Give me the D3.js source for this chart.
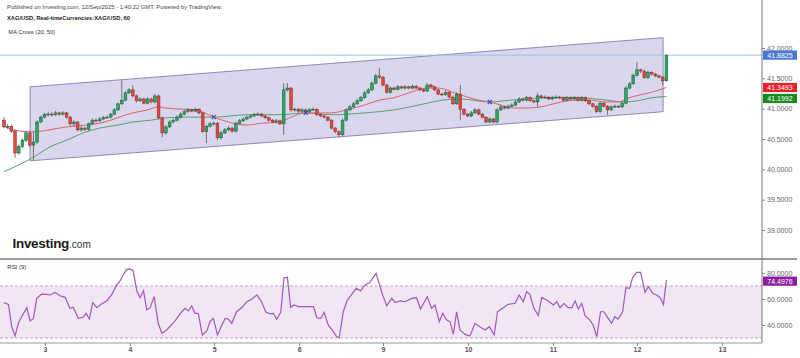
<!DOCTYPE html>
<html><head><meta charset="utf-8">
<script src="https://cdn.jsdelivr.net/npm/d3@7"></script>
<style>body{margin:0;background:#fff;}svg{display:block;font-family:"Liberation Sans",Arial,sans-serif;}</style>
</head><body><svg id="c" width="800" height="358"></svg>
<script>
// ---------- DATA ----------
const firstOpen = 40.81;
const closes = [40.70,40.71,40.63,40.27,40.38,40.48,40.60,40.40,40.45,40.78,
 40.86,40.90,40.91,40.90,40.93,40.91,40.93,40.86,40.75,40.78,
 40.65,40.68,40.66,40.75,40.81,40.80,40.83,40.85,40.86,40.91,
 40.98,41.08,41.14,41.26,41.31,41.21,41.13,41.16,41.09,41.16,
 41.11,41.21,40.85,40.60,40.70,40.78,40.81,40.86,40.91,40.95,
 40.98,40.96,40.99,40.93,40.62,40.71,40.75,40.76,40.52,40.60,
 40.65,40.68,40.63,40.76,40.80,40.83,40.86,40.88,40.90,40.91,
 40.88,40.85,40.81,40.78,40.80,40.75,41.31,41.34,40.98,40.99,
 40.96,40.98,40.95,40.98,40.99,40.90,40.88,40.86,40.81,40.68,
 40.62,40.57,40.81,40.98,41.03,41.08,41.13,41.18,41.26,41.31,
 41.42,41.54,41.52,41.39,41.27,41.34,41.32,41.36,41.34,41.36,
 41.34,41.37,41.34,41.31,41.29,41.39,41.36,41.31,41.24,41.23,
 41.27,41.19,41.08,41.24,40.99,40.91,40.88,40.93,40.98,40.91,
 40.86,40.78,40.83,40.78,40.98,41.03,41.01,41.04,41.06,41.11,
 41.16,41.14,41.18,41.13,41.11,41.21,41.18,41.19,41.16,41.18,
 41.19,41.18,41.14,41.18,41.16,41.18,41.14,41.18,41.13,41.08,
 41.04,40.95,41.09,41.04,40.98,41.03,41.04,41.03,41.09,41.34,
 41.41,41.55,41.64,41.62,41.51,41.60,41.57,41.54,41.52,41.46,
 41.8825];
const highs = [40.86,40.75,40.74,40.66,40.41,40.51,40.63,40.62,40.62,40.81,
 40.89,40.93,40.95,40.94,40.96,40.95,40.96,40.95,40.88,40.81,
 40.80,40.71,40.70,40.77,40.84,40.84,40.86,40.88,40.89,40.93,
 41.01,41.10,41.47,41.29,41.34,41.39,41.23,41.19,41.18,41.19,
 41.18,41.24,41.23,40.87,40.73,40.81,40.84,40.89,40.94,40.98,
 41.01,41.00,41.02,41.01,40.95,40.74,40.78,40.79,40.78,40.63,
 40.68,40.71,40.70,40.79,40.83,40.86,40.89,40.91,40.93,40.94,
 40.93,40.90,40.87,40.83,40.83,40.82,41.42,41.42,41.36,41.02,
 41.01,41.01,41.00,41.01,41.02,41.01,40.92,40.90,40.88,40.83,
 40.70,40.64,40.84,41.01,41.06,41.11,41.16,41.21,41.29,41.34,
 41.45,41.57,41.67,41.54,41.41,41.37,41.36,41.39,41.38,41.39,
 41.38,41.40,41.39,41.36,41.33,41.42,41.41,41.38,41.33,41.26,
 41.30,41.29,41.21,41.27,41.39,41.01,40.93,40.96,41.01,41.00,
 40.93,40.88,40.86,40.85,41.01,41.06,41.05,41.07,41.09,41.14,
 41.19,41.18,41.21,41.20,41.15,41.26,41.23,41.22,41.21,41.21,
 41.22,41.21,41.20,41.21,41.20,41.21,41.20,41.21,41.20,41.15,
 41.10,41.06,41.12,41.11,41.06,41.06,41.07,41.06,41.12,41.37,
 41.44,41.58,41.77,41.66,41.64,41.63,41.62,41.59,41.56,41.54,
 41.89];
const lows = [40.68,40.66,40.60,40.19,40.24,40.35,40.45,40.37,40.15,40.42,
 40.76,40.84,40.87,40.87,40.88,40.88,40.89,40.84,40.72,40.70,
 40.63,40.62,40.63,40.64,40.73,40.77,40.78,40.81,40.83,40.84,
 40.89,40.96,41.06,41.12,41.24,41.19,41.10,41.11,41.07,41.07,
 41.09,41.09,40.82,40.53,40.57,40.68,40.76,40.79,40.84,40.89,
 40.93,40.94,40.94,40.91,40.60,40.43,40.69,40.72,40.48,40.49,
 40.58,40.63,40.60,40.61,40.74,40.78,40.81,40.84,40.86,40.88,
 40.86,40.83,40.79,40.76,40.76,40.73,40.57,41.28,40.95,40.95,
 40.93,40.93,40.92,40.92,40.96,40.88,40.86,40.84,40.79,40.66,
 40.59,40.53,40.55,40.79,40.96,41.01,41.06,41.11,41.16,41.24,
 41.29,41.40,41.49,41.37,41.25,41.25,41.30,41.30,41.32,41.32,
 41.32,41.32,41.32,41.29,41.27,41.27,41.34,41.29,41.22,41.21,
 41.21,41.17,41.06,41.06,40.81,40.89,40.86,40.86,40.91,40.89,
 40.84,40.76,40.76,40.76,40.76,40.96,40.99,40.99,41.02,41.04,
 41.09,41.12,41.12,41.11,41.09,41.03,41.16,41.16,41.14,41.14,
 41.16,41.16,41.12,41.12,41.14,41.14,41.12,41.12,41.11,41.06,
 41.02,40.93,40.93,41.02,40.90,40.96,41.01,41.01,41.01,41.07,
 41.32,41.39,41.53,41.59,41.49,41.49,41.55,41.52,41.50,41.39,
 41.44];

const ma20Idx = [0,4.3,8,17,26,35,39,42,44,49,52,57,61,66,70,75,78,82,89,93,98,102,106,110,115,118,122,126,129,132,135,138,142,146,150,155,159,164,167,170,173,176,180];
const ma20Val = [40.71,40.63,40.62,40.70,40.76,40.93,40.98,41.03,41.01,40.99,40.98,40.86,40.78,40.73,40.76,40.78,40.86,40.93,40.93,40.98,41.06,41.14,41.18,41.26,41.34,41.34,41.27,41.19,41.14,41.11,41.06,41.01,41.01,41.03,41.09,41.14,41.14,41.11,41.11,41.18,41.23,41.27,41.3493];
const ma50Idx = [0,8,12.5,17,21.5,26,31,35,40,44,49,57,66,75,82,89,98,106,115,119,124,132,137.5,142,146.5,155,164,168,173,176,180];
const ma50Val = [39.96,40.20,40.37,40.48,40.60,40.68,40.73,40.78,40.81,40.85,40.86,40.86,40.90,40.90,40.93,40.90,40.93,40.98,41.09,41.14,41.16,41.11,41.14,41.16,41.18,41.18,41.14,41.11,41.14,41.18,41.1992];
const crossIdx = [57,82,132];
const crossVal = [40.86,40.93,41.11];

const rsiIdx = [0,1.2,2.1,3.0,3.9,4.8,6.2,7.1,8.0,8.9,10.2,11.6,12.5,13.9,15.2,16.6,17.9,18.8,20.2,21.5,
 22.3,23.2,24.1,25.2,26.5,27.9,29.3,30.6,31.5,32.4,33.3,34.2,35.1,36.1,37.0,37.9,38.8,39.7,40.8,41.9,
 42.9,44.2,46.5,48.3,49.2,50.1,51.0,51.9,52.8,53.9,55.1,56.0,56.9,58.0,59.2,60.1,61.0,61.9,63.2,64.6,
 66.0,67.3,68.7,70.0,71.1,72.3,73.2,74.1,75.2,76.1,77.0,77.9,78.8,80.0,82.3,84.1,85.0,86.1,87.0,88.1,
 89.0,90.4,91.1,92.2,93.3,94.5,95.7,96.9,98.1,99.3,101.1,102.2,102.9,104.0,105.4,106.3,107.6,109.0,110.8,112.1,
 113.2,115.0,116.2,117.1,118.3,119.2,120.3,121.2,122.1,123.0,123.9,125.3,126.6,128.0,129.3,130.7,131.9,133.2,134.1,135.7,
 137.0,138.9,140.0,141.1,142.0,142.9,144.0,145.2,146.1,147.5,149.3,150.2,151.1,152.2,153.3,154.3,155.2,156.1,157.0,157.9,
 159.2,160.1,161.1,162.1,163.0,164.2,165.1,166.0,166.9,168.1,169.0,170.0,170.8,171.9,173.0,174.2,175.1,176.3,177.4,178.3,
 179.2,180];
const rsiVal = [57.2,55.9,38.7,31.5,41.3,46.4,53.3,43.1,45.1,60.5,63.8,63.6,63.1,65.1,62.5,61.3,52.8,53.6,45.1,45.9,
 49,44.6,57.2,53.3,56.2,58.5,63.6,70.8,73.8,78.5,82.8,83.1,81.8,66.2,61.0,66.4,51.5,53.3,61.8,41.3,
 33.6,36.2,43.1,50.2,52.8,50.8,54.6,49,49,32.3,35.4,42.6,45.1,32.3,40,45.1,44.4,41.3,50.2,53.3,
 57.9,59.8,63.1,57.9,50.2,48.5,49,44.4,49.8,76.4,76.7,53.6,55.4,54.1,54.1,54.1,45.6,45.1,49.8,40,
 36.9,31,30.2,50.2,59.2,63.6,68.2,66.2,70.8,72.5,79.7,69.5,63.1,54.9,60.5,57.2,58.5,57.9,60.5,61.0,
 52.3,61.8,52.8,55.4,42.6,49,43.8,42.6,32.8,50.2,36.2,32.8,31.5,41.3,38.7,36.2,38.7,32.3,50.2,53.3,
 55.9,56.7,63.1,57.9,65.6,63.6,52.8,47.2,61.0,59.2,55.4,57.9,53.3,56.7,53.3,53.3,58.5,52.3,56.7,47.2,
 43.8,40,31,50.2,50.2,45.1,41.3,46.4,44.6,50.2,68.7,68.2,76.4,80.5,80.5,65.1,69.5,64.4,63.1,61.0,
 55.9,74.4976];

const channelIdx = [7.1, 179.1];
const channelTop = [41.36, 42.17];
const channelBottom = [40.14, 40.95];

const dayTickIdx = [11.1,34.2,57.1,80.2,103.0,126.1,149.2,172.0,195.1];
const dayLabels = ["3","4","5","6","9","10","11","12","13"];
const priceTicks = [39.0,39.5,40.0,40.5,41.0,41.5,42.0];
const rsiTicks = [40,60,80];
const rsiBands = [70,30];
const lastPrice = 41.8825, lastMA20 = 41.3493, lastMA50 = 41.1992, lastRSI = 74.4976;

// ---------- LAYOUT ----------
const svg = d3.select("#c");
const axisX = 762;
const x = d3.scaleLinear().domain([0,180]).range([4,666.4]);
const y = d3.scaleLinear().domain([39,42]).range([230,48]);
const yr = d3.scaleLinear().domain([40,80]).range([325,273]);

const candles = closes.map((c,i)=>({i, o: i===0?firstOpen:closes[i-1], c, h: highs[i], l: lows[i]}));

// RSI panel
svg.append("rect").attr("x",0).attr("width",axisX).attr("y",yr(rsiBands[0])).attr("height",yr(rsiBands[1])-yr(rsiBands[0])).attr("fill","#f1e6f4");
svg.selectAll("line.band").data(rsiBands).join("line").attr("class","band")
  .attr("x1",0).attr("x2",axisX).attr("y1",d=>yr(d)).attr("y2",d=>yr(d))
  .attr("stroke","#bfa3c7").attr("stroke-width",1).attr("stroke-dasharray","3,2");
const rsiData = rsiIdx.map((t,k)=>[t,rsiVal[k]]);
svg.append("path").datum(rsiData).attr("fill","none").attr("stroke","#a05ab8").attr("stroke-width",1.2)
  .attr("d", d3.line().x(d=>x(d[0])).y(d=>yr(d[1])));

// separators
svg.append("line").attr("x1",0).attr("x2",797).attr("y1",259).attr("y2",259).attr("stroke","#7a7a7a").attr("stroke-width",1.6);
svg.append("line").attr("x1",0).attr("x2",axisX).attr("y1",343).attr("y2",343).attr("stroke","#9a9a9a").attr("stroke-width",1);

// channel
const chPts = [[channelIdx[0],channelTop[0]],[channelIdx[1],channelTop[1]],[channelIdx[1],channelBottom[1]],[channelIdx[0],channelBottom[0]]];
svg.append("path").attr("d", d3.line().x(d=>x(d[0])).y(d=>y(d[1]))(chPts)+"Z")
  .attr("fill","rgba(118,108,190,0.28)").attr("stroke","#8c88b8").attr("stroke-width",1);

// last price line
svg.append("line").attr("x1",0).attr("x2",axisX).attr("y1",y(lastPrice)).attr("y2",y(lastPrice)).attr("stroke","#aebbdc").attr("stroke-width",1);

// MA lines
const lineG = d3.line().x(d=>x(d[0])).y(d=>y(d[1])).curve(d3.curveMonotoneX);
svg.append("path").datum(ma50Idx.map((t,k)=>[t,ma50Val[k]])).attr("d",lineG).attr("fill","none").attr("stroke","#5e9e6c").attr("stroke-width",1);
svg.append("path").datum(ma20Idx.map((t,k)=>[t,ma20Val[k]])).attr("d",lineG).attr("fill","none").attr("stroke","#e0606c").attr("stroke-width",1);

// candles
const cw = 2.8;
const cg = svg.append("g");
cg.selectAll("line.w").data(candles).join("line").attr("class","w")
  .attr("x1",d=>x(d.i)).attr("x2",d=>x(d.i)).attr("y1",d=>y(d.h)).attr("y2",d=>y(d.l))
  .attr("stroke","#555").attr("stroke-width",0.8);
cg.selectAll("rect.b").data(candles).join("rect").attr("class","b")
  .attr("x",d=>x(d.i)-cw/2).attr("width",cw)
  .attr("y",d=>y(Math.max(d.o,d.c))).attr("height",d=>Math.max(0.8, Math.abs(y(d.o)-y(d.c))))
  .attr("fill",d=>d.c>=d.o?"#2aa865":"#e2483f")
  .attr("stroke",d=>d.c>=d.o?"#1b5e37":"#8a2b25").attr("stroke-width",0.5);

// MA cross markers
crossIdx.forEach((t,k)=>{
  const cx=x(t), cy=y(crossVal[k]);
  svg.append("path").attr("d",`M${cx-2},${cy-2}L${cx+2},${cy+2}M${cx-2},${cy+2}L${cx+2},${cy-2}`)
    .attr("stroke","#3b4fc4").attr("stroke-width",1.3);
});

// axis line
svg.append("line").attr("x1",axisX).attr("x2",axisX).attr("y1",0).attr("y2",343).attr("stroke","#777").attr("stroke-width",1);

// price axis
const pa = svg.append("g").attr("transform",`translate(${axisX},0)`)
  .call(d3.axisRight(y).tickValues(priceTicks).tickFormat(d3.format(".4f")).tickSize(3).tickPadding(2));
pa.select(".domain").remove();
pa.selectAll("line").attr("stroke","#888");
pa.selectAll("text").attr("fill","#666").style("font-size","7px").style("font-family","'Liberation Sans',Arial,sans-serif");

const ra = svg.append("g").attr("transform",`translate(${axisX},0)`)
  .call(d3.axisRight(yr).tickValues(rsiTicks).tickFormat(d3.format(".4f")).tickSize(3).tickPadding(2));
ra.select(".domain").remove();
ra.selectAll("line").attr("stroke","#888");
ra.selectAll("text").attr("fill","#666").style("font-size","7px").style("font-family","'Liberation Sans',Arial,sans-serif");

// x axis
const xa = svg.append("g").attr("transform","translate(0,343)")
  .call(d3.axisBottom(x).tickValues(dayTickIdx).tickFormat((d,i)=>dayLabels[i]).tickSize(3).tickPadding(1));
xa.select(".domain").remove();
xa.selectAll("line").attr("stroke","#888");
xa.selectAll("text").attr("fill","#555").style("font-size","7px").style("font-weight","bold").style("font-family","'Liberation Sans',Arial,sans-serif");

// value boxes
const boxes = [
  {v:lastPrice, col:"#4a78d8", yy:y(lastPrice)},
  {v:lastMA20, col:"#e8202a", yy:y(lastMA20)},
  {v:lastMA50, col:"#178a1e", yy:y(lastMA50)}
];
for(let k=1;k<boxes.length;k++){ if(boxes[k].yy-boxes[k-1].yy<11) boxes[k].yy=boxes[k-1].yy+11; }
boxes.push({v:lastRSI, col:"#8b1f9e", yy:yr(lastRSI)+1});
boxes.forEach(b=>{
  svg.append("rect").attr("x",axisX+1).attr("y",b.yy-4.6).attr("width",34).attr("height",9.2).attr("fill",b.col);
  svg.append("text").attr("x",axisX+18).attr("y",b.yy+2.5).attr("text-anchor","middle").attr("fill","#fff")
    .style("font-size","7px").text(d3.format(".4f")(b.v));
});

// titles
svg.append("text").attr("x",7).attr("y",9).attr("fill","#444").style("font-size","6px")
  .attr("textLength",215).attr("lengthAdjust","spacingAndGlyphs")
  .text("Published on Investing.com, 12/Sep/2025 - 1:40:22 GMT, Powered by TradingView.");
svg.append("text").attr("x",7).attr("y",19.5).attr("fill","#222").style("font-size","6px").style("font-weight","bold")
  .attr("textLength",123).attr("lengthAdjust","spacingAndGlyphs")
  .text("XAG/USD, Real-timeCurrencies:XAG/USD, 60");
svg.append("text").attr("x",8.3).attr("y",34).attr("fill","#333").style("font-size","6px")
  .attr("textLength",47).attr("lengthAdjust","spacingAndGlyphs").text("MA Cross (20, 50)");
svg.append("text").attr("x",7.3).attr("y",269.3).attr("fill","#333").style("font-size","6px")
  .attr("textLength",19).attr("lengthAdjust","spacingAndGlyphs").text("RSI (9)");

// logo
const logo = svg.append("text").attr("x",12.5).attr("y",247.5);
logo.append("tspan").attr("fill","#1a1a1a").style("font-size","13.5px").style("font-weight","bold").style("letter-spacing","-0.3px").text("Investing");
logo.append("tspan").attr("fill","#333").style("font-size","10px").text(".com");
</script></body></html>
